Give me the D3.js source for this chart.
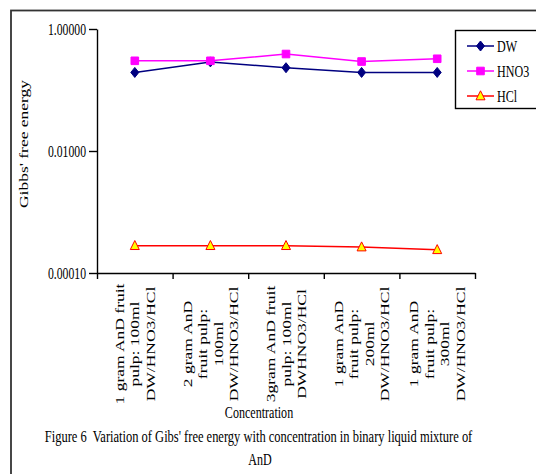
<!DOCTYPE html>
<html>
<head>
<meta charset="utf-8">
<script src="https://cdn.jsdelivr.net/npm/d3@7/dist/d3.min.js"></script>
<style>
  html, body { margin: 0; padding: 0; background: #fff; }
  svg { display: block; }
  text { font-family: "Liberation Serif", "Times New Roman", serif; fill: #000; white-space: pre; }
</style>
</head>
<body>
<svg id="chart" width="536" height="474"></svg>
<script>
// ---- data ----
const categories = [
  ["1 gram AnD fruit", "pulp: 100ml", "DW/HNO3/HCl"],
  ["2 gram AnD", "fruit pulp:", "100ml", "DW/HNO3/HCl"],
  ["3gram AnD fruit", "pulp: 100ml", "DWHNO3/HCl"],
  ["1 gram AnD", "fruit pulp:", "200ml", "DW/HNO3/HCl"],
  ["1 gram AnD", "fruit pulp:", "300ml", "DW/HNO3/HCl"]
];
const seriesNames = ["DW", "HNO3", "HCl"];
const dwValues   = [0.194, 0.289, 0.232, 0.194, 0.194];
const hno3Values = [0.301, 0.301, 0.389, 0.293, 0.325];
const hclValues  = [0.000280, 0.000280, 0.000280, 0.000266, 0.000240];
const yTickValues = [1, 0.01, 0.0001];
const yTickLabels = ["1.00000", "0.01000", "0.00010"];
const yTitle = "Gibbs' free energy";
const xTitle = "Concentration";
const captionLines = ["Figure 6  Variation of Gibs' free energy with concentration in binary liquid mixture of", "AnD"];

// ---- styles ----
const colors = { DW: "#000080", HNO3: "#FF00FF", HCl: "#FF0000" };
const FS = 17, SX = 0.71;

const svg = d3.select("#chart");

// outer frame
svg.append("rect").attr("x", 11).attr("y", 10.5).attr("width", 700).attr("height", 700)
  .attr("fill", "none").attr("stroke", "#333").attr("stroke-width", 1.8);

const pL = 97, pR = 475, pT = 29, pB = 273;
const y = d3.scaleLog().domain([1e-4, 1]).range([pB, pT]);
const xb = d3.scaleLinear().domain([0, categories.length]).range([pL, pR]);
const xc = i => xb(i + 0.5);

function hText(parent, x, yy, str, anchor, size, sx) {
  return parent.append("text")
    .attr("transform", `translate(${x},${yy}) scale(${sx || SX},1)`)
    .attr("text-anchor", anchor || "start")
    .attr("font-size", size || FS)
    .text(str);
}

// axes
const yAxis = d3.axisLeft(y).tickValues(yTickValues).tickSize(8).tickSizeOuter(0).tickFormat("");
const gy = svg.append("g").attr("transform", `translate(${pL},0)`).call(yAxis);
const xAxis = d3.axisBottom(xb).tickValues(d3.range(categories.length + 1)).tickSize(6).tickSizeOuter(0).tickFormat("");
const gx = svg.append("g").attr("transform", `translate(0,${pB})`).call(xAxis);
[gy, gx].forEach(g => {
  g.select(".domain").attr("stroke", "#000").attr("stroke-width", 1.4);
  g.selectAll(".tick line").attr("stroke", "#000").attr("stroke-width", 1.4);
});

// y tick labels
yTickValues.forEach((v, i) => {
  hText(svg, 86, y(v), yTickLabels[i], "end", 16.5).attr("dominant-baseline", "central");
});

// category labels (rotated, centered)
const lh = 21.8;
categories.forEach((lines, i) => {
  const g = svg.append("g")
    .attr("transform", `translate(${xc(i)},344) scale(${SX},1) rotate(-90)`);
  const t = g.append("text").attr("text-anchor", "middle").attr("font-size", 17.5);
  lines.forEach((ln, j) => {
    t.append("tspan").attr("x", 0)
      .attr("y", (j - (lines.length - 1) / 2) * lh)
      .attr("dominant-baseline", "central")
      .text(ln);
  });
});

// y title
svg.append("text")
  .attr("transform", `translate(23,144) scale(${SX},1) rotate(-90)`)
  .attr("text-anchor", "middle").attr("dominant-baseline", "central")
  .attr("font-size", 17.5).text(yTitle);

// x title and caption
hText(svg, 259, 418, xTitle, "middle");
hText(svg, 258.5, 442, captionLines[0], "middle", FS, 0.735);
hText(svg, 260, 465, captionLines[1], "middle");

// symbols
const diamond = { draw(ctx, size) { const w = 4, h = 5; ctx.moveTo(0, -h); ctx.lineTo(w, 0); ctx.lineTo(0, h); ctx.lineTo(-w, 0); ctx.closePath(); } };
const square = { draw(ctx, size) { const s = 3.8; ctx.rect(-s, -s, 2 * s, 2 * s); } };
const triangle = { draw(ctx, size) { ctx.moveTo(0, -5.2); ctx.lineTo(4.5, 3.8); ctx.lineTo(-4.5, 3.8); ctx.closePath(); } };

const series = [
  { name: "DW", values: dwValues, sym: diamond, fill: colors.DW, stroke: colors.DW },
  { name: "HNO3", values: hno3Values, sym: square, fill: colors.HNO3, stroke: colors.HNO3 },
  { name: "HCl", values: hclValues, sym: triangle, fill: "#FFFF00", stroke: colors.HCl }
];

const line = d3.line().x((d, i) => xc(i)).y(d => y(d));
series.forEach(s => {
  svg.append("path").attr("d", line(s.values)).attr("fill", "none")
    .attr("stroke", colors[s.name]).attr("stroke-width", 1.5);
  svg.selectAll(null).data(s.values).enter().append("path")
    .attr("transform", (d, i) => `translate(${xc(i)},${y(d)})`)
    .attr("d", d3.symbol().type(s.sym)())
    .attr("fill", s.fill).attr("stroke", s.stroke).attr("stroke-width", 1);
});

// legend
const lg = svg.append("g");
lg.append("rect").attr("x", 455.5).attr("y", 30.5).attr("width", 120).attr("height", 78)
  .attr("fill", "#fff").attr("stroke", "#000").attr("stroke-width", 1.4);
const legY = [46, 71, 96];
series.forEach((s, i) => {
  lg.append("line").attr("x1", 467).attr("x2", 494).attr("y1", legY[i]).attr("y2", legY[i])
    .attr("stroke", colors[s.name]).attr("stroke-width", 1.5);
  lg.append("path").attr("transform", `translate(480.5,${legY[i]})`)
    .attr("d", d3.symbol().type(s.sym)())
    .attr("fill", s.fill).attr("stroke", s.stroke).attr("stroke-width", 1);
  hText(lg, 497, legY[i], seriesNames[i], "start", 17).attr("dominant-baseline", "central");
});
</script>
</body>
</html>
